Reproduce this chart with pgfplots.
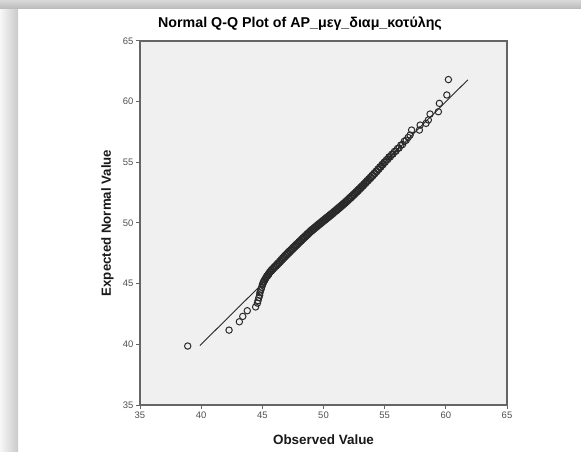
\documentclass[border=0pt]{standalone}
\usepackage{pgfplots}
\pgfplotsset{compat=1.18}
\usepackage{fontspec}
\setmainfont{Liberation Sans}
\definecolor{plotbg}{HTML}{F0F0F0}
\definecolor{frame}{HTML}{656565}
\definecolor{tlab}{HTML}{505050}
\definecolor{pts}{HTML}{2A2A2A}
\begin{document}
\begin{tikzpicture}
\useasboundingbox (0,0) rectangle (581bp,452bp);
\fill[white] (0,0) rectangle (581bp,452bp);
\shade[left color=gray!6, right color=gray!42] (0,0) rectangle (18bp,443bp);
\shade[top color=gray!30, bottom color=gray!55] (0,443bp) rectangle (581bp,452bp);
\begin{axis}[
  at={(140bp,47bp)}, anchor=south west,
  scale only axis, width=367bp, height=364bp,
  xmin=35, xmax=65, ymin=35, ymax=65,
  xtick={35,40,...,65}, ytick={35,40,...,65},
  tick align=outside, tick pos=left,
  major tick length=4bp,
  axis background/.style={fill=plotbg},
  axis line style={draw=frame, line width=1.4bp},
  every tick/.style={draw=frame, line width=1bp},
  ticklabel style={font=\fontsize{9.5}{10}\selectfont, text=tlab},
  xticklabel style={yshift=1bp},
  yticklabel style={xshift=1bp},
  /pgf/number format/assume math mode=true,
  title={Normal Q-Q Plot of AP\_μεγ\_διαμ\_κοτύλης},
  title style={font=\bfseries\fontsize{14.3}{15}\selectfont, at={(axis description cs:0.436,1.030)}, anchor=center},
  xlabel={Observed Value},
  xlabel style={font=\bfseries\fontsize{13.5}{14}\selectfont, text=black!90, at={(axis description cs:0.5,-0.096)}, anchor=center},
  ylabel={Expected Normal Value},
  ylabel style={font=\bfseries\fontsize{13.3}{14}\selectfont, text=black!90, at={(axis description cs:-0.0886,0.5)}, anchor=center, rotate=0},
  clip=false,
]
\addplot[black!85, line width=0.9bp] coordinates {(39.9,39.9) (61.8,61.8)};
\addplot[only marks, mark=o, mark size=3.2bp, mark options={draw=pts, line width=1bp}] table {
x y
38.90 39.86
42.28 41.17
43.12 41.86
43.40 42.30
43.77 42.77
44.45 43.08
44.60 43.40
44.65 43.60
44.72 43.85
44.78 44.05
44.80 44.25
44.85 44.40
44.90 44.55
44.95 44.70
45.00 44.90
45.04 44.97
45.08 45.12
45.12 45.16
45.17 45.30
45.21 45.30
45.26 45.45
45.31 45.50
45.36 45.63
45.42 45.62
45.47 45.78
45.53 45.77
45.58 45.94
45.64 45.96
45.70 46.09
45.76 46.06
45.82 46.22
45.88 46.20
45.94 46.35
46.00 46.33
46.06 46.47
46.12 46.44
46.18 46.60
46.24 46.56
46.30 46.72
46.36 46.69
46.42 46.85
46.48 46.81
46.54 46.99
46.60 46.95
46.66 47.12
46.71 47.07
46.77 47.24
46.83 47.19
46.88 47.36
46.94 47.31
47.00 47.48
47.05 47.42
47.11 47.59
47.16 47.53
47.22 47.70
47.27 47.64
47.33 47.80
47.38 47.75
47.44 47.91
47.49 47.86
47.55 48.03
47.60 47.97
47.66 48.13
47.71 48.07
47.77 48.24
47.82 48.18
47.88 48.34
47.93 48.29
47.99 48.45
48.04 48.40
48.10 48.56
48.15 48.50
48.21 48.67
48.26 48.61
48.32 48.77
48.37 48.72
48.43 48.88
48.48 48.82
48.54 48.98
48.59 48.92
48.65 49.09
48.70 49.03
48.76 49.19
48.81 49.13
48.87 49.30
48.92 49.24
48.98 49.40
49.03 49.33
49.09 49.49
49.14 49.42
49.20 49.58
49.25 49.52
49.31 49.67
49.36 49.61
49.42 49.77
49.47 49.70
49.53 49.86
49.58 49.79
49.64 49.95
49.69 49.88
49.75 50.04
49.80 49.97
49.86 50.13
49.91 50.06
49.97 50.22
50.02 50.15
50.08 50.31
50.13 50.24
50.19 50.40
50.24 50.33
50.30 50.49
50.35 50.42
50.41 50.58
50.46 50.51
50.52 50.67
50.57 50.60
50.63 50.76
50.68 50.69
50.74 50.85
50.79 50.78
50.85 50.94
50.90 50.88
50.96 51.03
51.01 50.97
51.07 51.13
51.12 51.06
51.18 51.22
51.23 51.16
51.29 51.32
51.34 51.25
51.40 51.41
51.45 51.35
51.51 51.51
51.56 51.44
51.62 51.60
51.67 51.54
51.73 51.70
51.78 51.64
51.84 51.80
51.89 51.74
51.95 51.90
52.00 51.84
52.06 52.01
52.12 51.95
52.18 52.12
52.24 52.06
52.30 52.23
52.36 52.18
52.42 52.35
52.48 52.29
52.54 52.46
52.60 52.41
52.66 52.58
52.72 52.53
52.78 52.70
52.84 52.65
52.90 52.82
52.96 52.77
53.03 52.95
53.09 52.90
53.16 53.08
53.22 53.03
53.29 53.21
53.35 53.17
53.42 53.35
53.48 53.31
53.55 53.49
53.62 53.45
53.69 53.63
53.76 53.59
53.83 53.78
53.90 53.74
53.97 53.93
54.05 53.90
54.12 54.09
54.20 54.06
54.28 54.26
54.36 54.24
54.44 54.44
54.52 54.42
54.60 54.62
54.69 54.61
54.78 54.82
54.87 54.81
54.96 55.02
55.05 55.02
55.15 55.22
55.25 55.23
55.35 55.44
55.46 55.45
55.57 55.66
55.68 55.68
55.80 55.90
55.92 55.92
56.05 56.14
56.18 56.18
56.32 56.42
56.46 56.46
56.61 56.74
56.76 56.82
56.92 57.05
57.08 57.25
57.20 57.66
57.84 57.66
57.90 58.07
58.38 58.21
58.57 58.49
58.71 58.98
59.39 59.17
59.47 59.86
60.08 60.55
60.21 61.82
};
\end{axis}
\end{tikzpicture}
\end{document}
